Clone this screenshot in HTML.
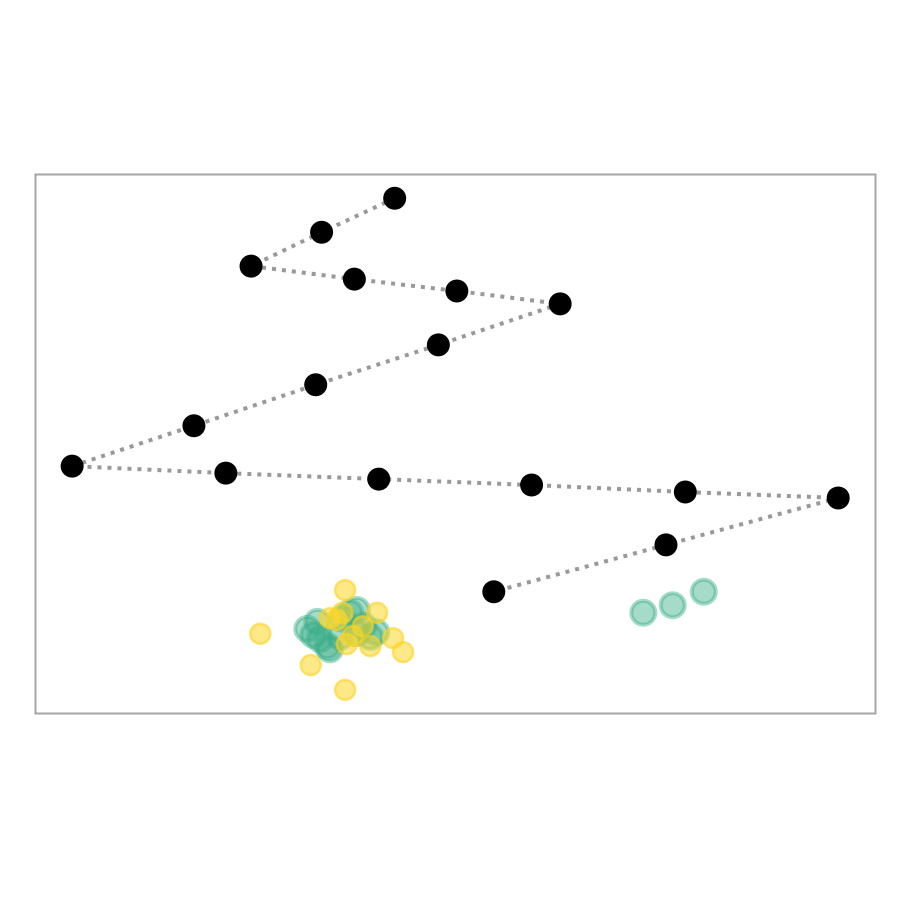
<!DOCTYPE html>
<html><head><meta charset="utf-8"><style>
html,body{margin:0;padding:0;background:#fff;}
svg{display:block;}
</style></head><body>
<svg id="chart" width="900" height="900">
<rect x="35.5" y="174.5" width="840" height="539" fill="none" stroke="#a6a6a6" stroke-width="2"/>
<g id="lines"></g><g id="green"></g><g id="yellow"></g><g id="black"></g>
</svg>
<script>
// data in plot units: x 0..100, y 0..100
const pathX = [42.7,34.0,25.6,37.9,50.1,62.4,47.9,33.3,18.8,4.3,22.6,40.8,59.0,77.3,95.5,75.0,54.5];
const pathY = [95.5,89.2,82.9,80.5,78.3,75.9,68.3,60.9,53.3,45.8,44.5,43.4,42.3,41.0,39.9,31.2,22.5];
const greenX = [32.3,33.5,34.7,33.8,37.4,38.2,39.8,38.2,36.2,33.0,35.0,36.5,39.0,40.5,72.3,75.8,79.5];
const greenY = [15.6,16.9,12.4,13.7,18.6,19.1,14.1,14.8,14.1,14.5,11.8,17.5,16.2,15.0,18.6,20.0,22.5];
const yellowX = [36.8,40.6,26.7,42.5,43.7,32.7,36.8,35.0,35.8,37.0,39.8,38.9,37.7,36.5];
const yellowY = [22.8,18.6,14.7,13.9,11.3,8.9,4.3,17.6,17.3,12.8,12.4,16.1,14.3,18.6];

const X0=36, W=840, Y0=713, H=539;
const sx = v => X0 + v/100*W;
const sy = v => Y0 - v/100*H;
const NS='http://www.w3.org/2000/svg';
const mk = (tag, parent) => { const e=document.createElementNS(NS,tag); document.getElementById(parent).appendChild(e); return e; };

const pl = mk('polyline','lines');
pl.setAttribute('points', pathX.map((x,i)=>sx(x)+','+sy(pathY[i])).join(' '));
pl.setAttribute('fill','none'); pl.setAttribute('stroke','#999'); pl.setAttribute('stroke-width','4'); pl.setAttribute('stroke-dasharray','4 6');



greenX.forEach((x,i)=>{
  const c=mk('circle','green');
  c.setAttribute('cx',sx(x)); c.setAttribute('cy',sy(greenY[i])); c.setAttribute('r',12);
  c.setAttribute('fill','rgba(58,174,135,0.45)'); c.setAttribute('stroke','rgba(58,174,135,0.45)'); c.setAttribute('stroke-width','4');
  
  
});
yellowX.forEach((x,i)=>{
  const c=mk('circle','yellow');
  c.setAttribute('cx',sx(x)); c.setAttribute('cy',sy(yellowY[i])); c.setAttribute('r',10);
  c.setAttribute('fill','rgba(253,215,40,0.55)'); c.setAttribute('stroke','rgba(253,210,30,0.6)'); c.setAttribute('stroke-width','2.5');
  
  
});
pathX.forEach((x,i)=>{
  const c=mk('circle','black');
  c.setAttribute('cx',sx(x)); c.setAttribute('cy',sy(pathY[i])); c.setAttribute('r',11.5);
  c.setAttribute('fill','#000');
  
  
});
</script>
</body></html>
